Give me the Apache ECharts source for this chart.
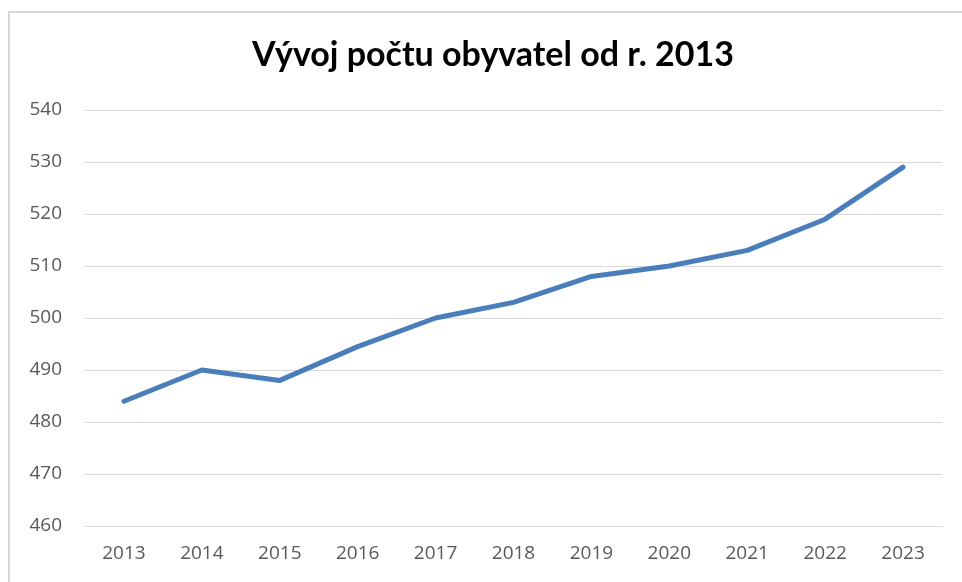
<!DOCTYPE html>
<html>
<head>
<meta charset="utf-8">
<script src="https://cdn.jsdelivr.net/npm/echarts@6/dist/echarts.min.js"></script>
<style>
html,body{margin:0;padding:0;background:#fff;}
#main{width:962px;height:582px;}
</style>
</head>
<body>
<div id="main"></div>
<script>
const titleText = 'Vývoj počtu obyvatel od r. 2013';
const years = ['2013','2014','2015','2016','2017','2018','2019','2020','2021','2022','2023'];
const population = [484, 490, 488, 494.5, 500, 503, 508, 510, 513, 519, 529];
const yMin = 460, yMax = 540, yStep = 10;

const chart = echarts.init(document.getElementById('main'), null, {renderer:'canvas'});
chart.setOption({
  backgroundColor: '#ffffff',
  animation: false,
  graphic: [{
    type: 'rect',
    shape: {x: 9, y: 12, width: 980, height: 600},
    style: {fill: 'none', stroke: '#d9d9d9', lineWidth: 2},
    silent: true
  }],
  title: {
    text: titleText,
    left: 488,
    textAlign: 'center',
    top: 33,
    textStyle: {fontFamily: 'Lato', fontWeight: 'bold', fontSize: 34, color: '#000000'}
  },
  grid: {left: 85, right: 20, top: 110, bottom: 56, containLabel: false},
  xAxis: {
    type: 'category',
    data: years,
    boundaryGap: true,
    axisLine: {show: true, lineStyle: {color: '#d9d9d9', width: 1}},
    axisTick: {show: false},
    axisLabel: {color: '#595959', fontFamily: 'Open Sans', fontSize: 19, margin: 18}
  },
  yAxis: {
    type: 'value',
    min: yMin, max: yMax, interval: yStep,
    axisLine: {show: false},
    axisTick: {show: false},
    splitLine: {lineStyle: {color: '#d9d9d9', width: 1}},
    axisLabel: {color: '#595959', fontFamily: 'Open Sans', fontSize: 19, margin: 23}
  },
  series: [{
    type: 'line',
    data: population,
    symbol: 'none',
    lineStyle: {color: '#4a7ebb', width: 5, cap: 'round', join: 'round'},
    itemStyle: {color: '#4a7ebb'}
  }]
});
</script>
</body>
</html>
